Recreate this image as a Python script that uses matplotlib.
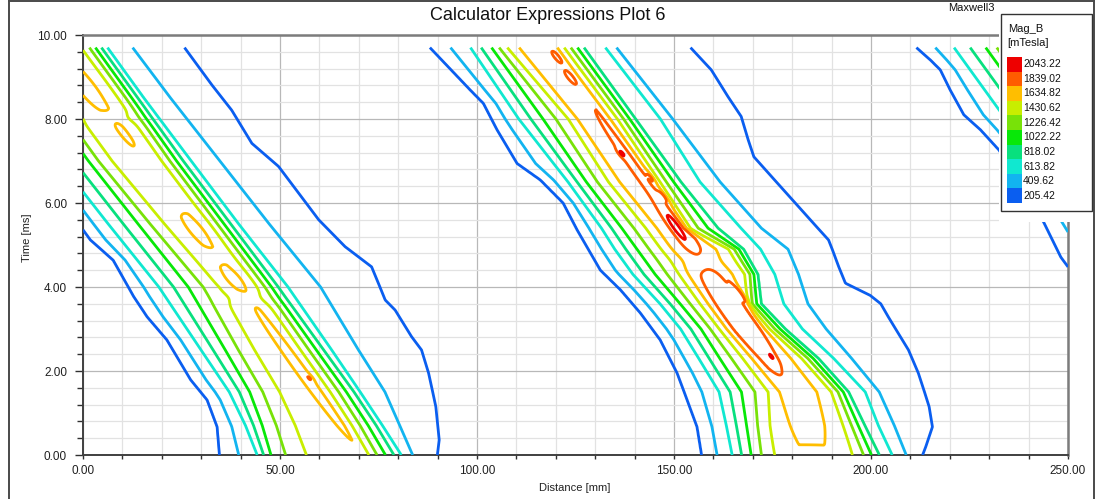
import numpy as np
import matplotlib
matplotlib.use("Agg")
import matplotlib.pyplot as plt
from matplotlib.patches import Rectangle
from matplotlib.lines import Line2D
from matplotlib.ticker import MultipleLocator, FormatStrFormatter

plt.rcParams['font.family'] = ['Liberation Sans', 'DejaVu Sans']

# ---------------------------------------------------------------- levels
LEVELS = [205.42, 409.62, 613.82, 818.02, 1022.22, 1226.42,
          1430.62, 1634.82, 1839.02, 2043.22]
LEVEL_COLORS = ['#0a5ef0', '#12b4f0', '#10e8d0', '#08e07e', '#08e808',
                '#78e208', '#c8ee00', '#ffbe00', '#ff5c00', '#ee0000']

# pattern drift along the machine, mm per ms (s = x + DRIFT * t)
DRIFT = 7.7

# cross-section nodes of every flux band (values in mTesla);
# the two PEAK entries take the row peak value
NODE_VALUES = [200, 600, 1000, 1400, 'PEAK', 'PEAK', 1400, 800, 600, 400, 200]

# ---- band 1 (left) : node positions in s [mm] per time row
B1_T = [0.0, 0.7, 1.5, 2.5, 4.0, 5.5, 7.0, 8.5, 10.0]
B1_S = [
    [34.5, 44.1, 47.3, 54.6, 67.0, 70.5, 72.8, 79.1, 80.9, 83.8, 90.1],
    [39.0, 46.5, 50.5, 57.5, 68.5, 71.5, 74.0, 80.0, 81.5, 86.0, 95.0],
    [41.5, 48.5, 53.5, 60.0, 69.0, 71.5, 74.8, 80.5, 82.0, 88.5, 100.5],
    [42.0, 49.0, 55.0, 61.5, 69.5, 71.5, 75.0, 80.5, 82.5, 89.5, 105.5],
    [42.0, 49.8, 57.1, 64.5, 69.5, 71.5, 75.5, 80.5, 83.0, 91.5, 107.0],
    [41.5, 48.5, 56.0, 62.0, 68.5, 71.0, 75.0, 80.0, 82.0, 90.0, 104.0],
    [41.0, 47.5, 55.0, 60.0, 68.0, 70.5, 74.5, 79.5, 81.5, 89.0, 102.0],
    [41.0, 47.5, 55.0, 60.0, 67.5, 70.0, 75.0, 79.5, 81.0, 88.0, 101.0],
    [41.0, 47.5, 55.0, 60.0, 67.5, 70.0, 75.0, 79.5, 81.0, 87.5, 100.8],
]
B1_PEAK = [1580, 1590, 1590, 1590, 1590, 1590, 1590, 1590, 1590]
B1_LEFT_T = [0.0, 0.67, 1.31, 1.79, 2.74, 3.29, 3.77, 4.64, 5.12, 10.0]
B1_LEFT_S = [34.5, 39.1, 41.5, 41.0, 42.3, 41.5, 41.8, 43.3, 41.2, 41.0]
B1_RIGHT_T = [0.0, 0.36, 1.15, 1.95, 2.5, 2.82, 3.45, 3.69, 4.48, 4.96,
              5.6, 6.23, 6.87, 7.42, 8.21, 8.81, 9.7]
B1_RIGHT_S = [90.1, 93.4, 98.7, 103.1, 105.6, 105.5, 106.2, 105.5, 108.2,
              105.1, 103.3, 103.1, 102.9, 100.3, 101.3, 100.9, 100.8]

# ---- band 2 (middle)
B2_T = [0.0, 0.7, 1.5, 2.3, 3.0, 3.6, 4.3, 4.9, 5.4, 6.5, 8.0, 10.0]
B2_S = [
    [156.6, 164.6, 169.3, 174.4, 182.0, 189.0, 196.4, 202.3, 205.6, 209.1, 213.2],
    [161.0, 168.5, 173.5, 179.0, 186.5, 192.0, 199.0, 204.0, 207.5, 211.5, 221.0],
    [165.0, 172.8, 178.3, 185.0, 190.5, 195.5, 202.0, 206.0, 210.4, 213.8, 223.5],
    [166.5, 173.8, 179.0, 184.8, 189.5, 195.5, 200.5, 204.5, 208.5, 213.0, 228.5],
    [167.4, 174.6, 179.7, 184.3, 188.0, 195.0, 197.5, 201.5, 206.0, 212.0, 230.0],
    [167.0, 174.0, 179.0, 184.0, 188.0, 195.0, 196.5, 200.0, 206.0, 212.0, 230.7],
    [165.5, 172.5, 178.0, 184.0, 188.5, 196.0, 201.5, 204.5, 209.0, 215.0, 226.0],
    [166.0, 172.5, 178.0, 184.0, 189.0, 196.5, 202.0, 205.5, 210.0, 217.0, 229.0],
    [166.6, 173.0, 178.0, 184.0, 189.0, 193.5, 195.5, 203.0, 209.0, 214.0, 229.0],
    [166.5, 173.0, 177.5, 183.0, 188.0, 192.5, 196.5, 202.0, 207.0, 212.0, 226.0],
    [163.0, 172.0, 178.0, 184.4, 188.5, 193.5, 197.5, 202.0, 208.6, 211.4, 229.5],
    [162.5, 173.0, 178.2, 181.5, 187.0, 194.0, 197.0, 202.0, 207.5, 210.0, 229.5],
]
B2_PEAK = [1600, 1700, 1760, 1760, 1760, 1760, 1760, 1760, 1760, 1760, 1760, 1760]
B2_LEFT_T = [0.0, 0.67, 1.31, 1.95, 2.74, 3.38, 3.93, 4.4, 5.36, 6.0, 6.55,
             6.94, 7.74, 8.37, 8.69, 9.7]
B2_LEFT_S = [156.9, 160.9, 163.3, 165.7, 167.5, 167.4, 166.6, 165.1, 166.6,
             168.0, 166.4, 163.5, 164.6, 166.0, 165.1, 162.6]
B2_RIGHT_T = [0.0, 0.2, 0.67, 1.15, 1.95, 2.5, 3.29, 3.6, 3.8, 4.09, 4.48,
              5.12, 7.1, 7.5, 8.06, 8.53, 9.17, 9.7]
B2_RIGHT_S = [213.2, 215.6, 221.0, 223.9, 227.4, 229.2, 230.2, 230.7, 229.5,
              225.3, 226.6, 229.0, 225.3, 227.0, 229.6, 229.9, 230.6, 229.4]

# ---- band 3 (top right, mostly outside the window)
B3_T = [0.0, 10.0]
B3_S = [
    [287.0, 295.5, 303.5, 309.0, 313.0, 318.0, 322.0, 326.0, 331.0, 335.0, 352.0],
    [287.0, 295.5, 303.5, 309.0, 313.0, 318.0, 322.0, 326.0, 331.0, 335.0, 352.0],
]
B3_PEAK = [1700, 1700]
B3_LEFT_T = [0.0, 4.71, 5.55, 7.26, 7.74, 8.1, 8.69, 9.17, 9.4, 9.72]
B3_LEFT_S = [285.0, 284.3, 286.4, 288.3, 287.3, 285.8, 286.9, 288.1, 287.4, 286.0]

# local extrema on the ridges: s0 [mm], t0 [ms], sigma_s, sigma_t, amplitude
HOT_S0 = [71.0, 71.7, 70.6, 70.5, 70.2, 69.4, 68.0, 69.0,
          193.5, 192.1, 194.9, 194.7, 192.0, 193.2, 192.9,
          191.5, 196.2, 192.8, 192.0]
HOT_T0 = [1.95, 1.83, 4.2, 3.74, 5.35, 7.65, 8.75, 8.03,
          6.5, 5.4, 6.6, 6.15, 7.18, 9.48, 9.0,
          3.2, 3.77, 2.34, 4.62]
HOT_SS = [1.1, 0.5, 2.0, 4.0, 2.0, 0.9, 2.5, 4.0,
          1.6, 0.9, 0.45, 0.5, 0.4, 0.6, 0.6,
          2.5, 0.6, 0.45, 4.0]
HOT_ST = [1.05, 0.07, 0.22, 0.12, 0.3, 0.25, 0.42, 0.1,
          1.3, 0.32, 0.1, 0.12, 0.07, 0.12, 0.12,
          0.95, 0.2, 0.09, 0.15]
HOT_AMP = [160, 140, 110, -60, 110, 90, 130, -60,
           190, 260, 200, 200, 250, 130, 130,
           200, 300, 200, -120]

# ---------------------------------------------------------------- field
x = np.linspace(0.0, 250.0, 1001)
t = np.linspace(0.0, 9.7, 486)
X, T = np.meshgrid(x, t)
S = X + DRIFT * T


def band_field(rows_t, rows_s, peaks, left=None, right=None):
    rows_s = np.asarray(rows_s, float)
    nodes = np.column_stack([np.interp(t, rows_t, rows_s[:, k])
                             for k in range(rows_s.shape[1])])
    if left is not None:
        nodes[:, 0] = np.interp(t, left[0], left[1])
    if right is not None:
        nodes[:, -1] = np.interp(t, right[0], right[1])
    nodes = np.maximum.accumulate(nodes + np.arange(nodes.shape[1]) * 1e-3, axis=1)
    peak = np.interp(t, rows_t, peaks)
    out = np.zeros_like(S)
    for i in range(len(t)):
        vals = [peak[i] if v == 'PEAK' else v for v in NODE_VALUES]
        xs = np.concatenate([[nodes[i, 0] - 10.0], nodes[i], [nodes[i, -1] + 10.0]])
        vs = np.concatenate([[0.0], vals, [0.0]])
        out[i] = np.interp(S[i], xs, vs, left=0.0, right=0.0)
    return out


F = band_field(B1_T, B1_S, B1_PEAK, (B1_LEFT_T, B1_LEFT_S), (B1_RIGHT_T, B1_RIGHT_S))
F = np.maximum(F, band_field(B2_T, B2_S, B2_PEAK, (B2_LEFT_T, B2_LEFT_S),
                             (B2_RIGHT_T, B2_RIGHT_S)))
F = np.maximum(F, band_field(B3_T, B3_S, B3_PEAK, (B3_LEFT_T, B3_LEFT_S)))
for s0, t0, ss, st, a in zip(HOT_S0, HOT_T0, HOT_SS, HOT_ST, HOT_AMP):
    F += a * np.exp(-0.5 * ((S - s0) / ss) ** 2 - 0.5 * ((T - t0) / st) ** 2)

# ---------------------------------------------------------------- figure
W, H = 1096, 499
fig = plt.figure(figsize=(W / 100, H / 100), dpi=100)


def fx(px):
    return px / W


def fy(py):
    return 1 - py / H


ax = fig.add_axes([fx(83), fy(455), fx(1068) - fx(83), fy(35) - fy(455)])
ax.contour(x, t, F, levels=LEVELS, colors=LEVEL_COLORS, linewidths=2.0, zorder=3)

ax.set_xlim(0, 250)
ax.set_ylim(0, 10)
ax.xaxis.set_major_locator(MultipleLocator(50))
ax.xaxis.set_minor_locator(MultipleLocator(10))
ax.yaxis.set_major_locator(MultipleLocator(2))
ax.yaxis.set_minor_locator(MultipleLocator(0.4))
ax.xaxis.set_major_formatter(FormatStrFormatter('%.2f'))
ax.yaxis.set_major_formatter(FormatStrFormatter('%.2f'))
ax.set_axisbelow(True)
ax.grid(which='major', color='#b8b8b8', lw=0.9)
ax.grid(which='minor', color='#e2e2e2', lw=0.9)
ax.tick_params(axis='x', which='both', direction='out', length=3.2, width=1,
               color='#303030', labelsize=8.5, labelcolor='#202020', pad=4)
ax.tick_params(axis='y', which='major', direction='out', length=6, width=1,
               color='#303030', labelsize=8.5, labelcolor='#202020', pad=5.5)
ax.tick_params(axis='y', which='minor', direction='out', length=4.5, width=1,
               color='#303030')
for side in ('left', 'bottom'):
    ax.spines[side].set_color('#404040')
    ax.spines[side].set_linewidth(1.4)
for side in ('top', 'right'):
    ax.spines[side].set_color('#7c7c7c')
    ax.spines[side].set_linewidth(1.8)

fig.text(fx(548), fy(16), 'Calculator Expressions Plot 6', ha='center',
         va='center', fontsize=13, color='#111111')
fig.text(fx(995), fy(8), 'Maxwell3', ha='right', va='center', fontsize=8,
         color='#111111')
fig.text(fx(575), fy(488), 'Distance [mm]', ha='center', va='center',
         fontsize=8, color='#222222')
fig.text(fx(27), fy(238), 'Time [ms]', ha='center', va='center', rotation=90,
         fontsize=8, color='#222222')

# outer frame of the report window
frame = dict(transform=fig.transFigure, color='#4a4a4a', lw=1.4)
fig.add_artist(Line2D([fx(9), fx(9)], [fy(1), fy(499)], **frame))
fig.add_artist(Line2D([fx(9), fx(1094)], [fy(1), fy(1)], **frame))
fig.add_artist(Line2D([fx(1094), fx(1094)], [fy(1), fy(499)], **frame))

# legend panel
fig.add_artist(Rectangle((fx(999), fy(222)), fx(1070) - fx(999), fy(28) - fy(222),
                         transform=fig.transFigure, facecolor='white',
                         edgecolor='none', zorder=5))
fig.add_artist(Rectangle((fx(1001), fy(211)), fx(1092) - fx(1001), fy(14) - fy(211),
                         transform=fig.transFigure, facecolor='white',
                         edgecolor='#333333', lw=1.0, zorder=6))
fig.text(fx(1008), fy(29), 'Mag_B', ha='left', va='center', fontsize=8,
         color='#111111', zorder=7)
fig.text(fx(1007), fy(43), '[mTesla]', ha='left', va='center', fontsize=8,
         color='#111111', zorder=7)
sw_top, sw_h = 57, 14.6
for k, (lev, col) in enumerate(zip(LEVELS[::-1], LEVEL_COLORS[::-1])):
    y0 = sw_top + k * sw_h
    fig.add_artist(Rectangle((fx(1007), fy(y0 + sw_h)), fx(1022) - fx(1007),
                             fy(y0) - fy(y0 + sw_h), transform=fig.transFigure,
                             facecolor=col, edgecolor='none', zorder=7))
    fig.text(fx(1023), fy(y0 + sw_h / 2), f'{lev:.2f}', ha='left', va='center',
             fontsize=7.5, color='#111111', zorder=7)

fig.savefig('out.png', dpi=100)
